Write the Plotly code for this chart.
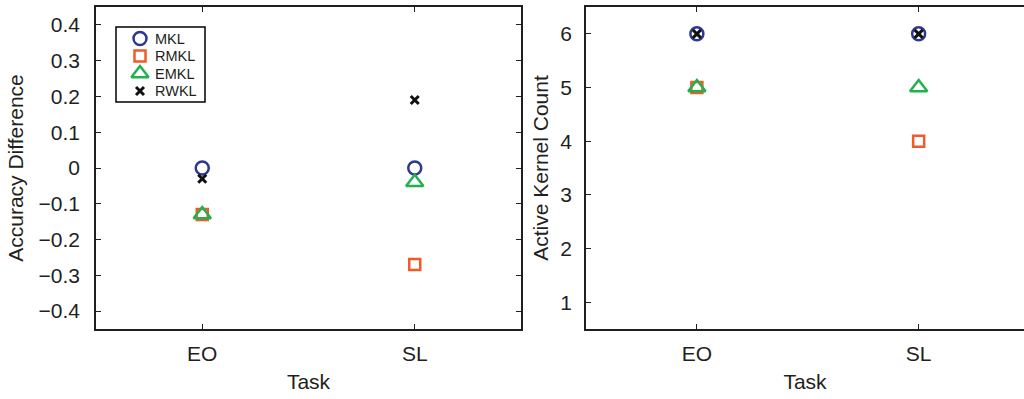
import plotly.graph_objects as go

# Task categories (x positions 1, 2)
tasks = ["EO", "SL"]
task_pos = [1, 2]

# Accuracy difference per method
acc_mkl = [0.0, 0.0]
acc_rmkl = [-0.13, -0.27]
acc_emkl = [-0.13, -0.04]
acc_rwkl = [-0.03, 0.19]

# Active kernel count per method
cnt_mkl = [6, 6]
cnt_rmkl = [5, 4]
cnt_emkl = [5, 5]
cnt_rwkl = [6, 6]

acc_ticks = [-0.4, -0.3, -0.2, -0.1, 0, 0.1, 0.2, 0.3, 0.4]
acc_ticktext = ["\u22120.4", "\u22120.3", "\u22120.2", "\u22120.1", "0", "0.1", "0.2", "0.3", "0.4"]
cnt_ticks = [1, 2, 3, 4, 5, 6]

method_names = ["MKL", "RMKL", "EMKL", "RWKL"]

FONT = "Liberation Sans, Arial, sans-serif"
INK = "#231f20"
FS = 21

styles = [
    dict(symbol="circle-open", size=13, color="#2b3990", line=dict(width=2.5, color="#2b3990")),
    dict(symbol="square-open", size=11, color="#f15a29", line=dict(width=2.5, color="#f15a29")),
    dict(symbol="triangle-up-open", size=15, color="#22b14c", line=dict(width=2.5, color="#22b14c")),
    dict(symbol="x-thin-open", size=8, color="#111111", line=dict(width=3, color="#111111")),
]
acc_series = [acc_mkl, acc_rmkl, acc_emkl, acc_rwkl]
cnt_series = [cnt_mkl, cnt_rmkl, cnt_emkl, cnt_rwkl]

fig = go.Figure()
for name, acc, cnt, mk in zip(method_names, acc_series, cnt_series, styles):
    fig.add_trace(go.Scatter(x=task_pos, y=acc, mode="markers", name=name,
                             marker=mk, xaxis="x", yaxis="y", showlegend=False))
    fig.add_trace(go.Scatter(x=task_pos, y=cnt, mode="markers", name=name,
                             marker=mk, xaxis="x2", yaxis="y2", showlegend=False))

# Boxed key inside the left panel, drawn on its own hidden axes
key_rows = [3, 2, 1, 0]
for name, row, mk in zip(method_names, key_rows, styles):
    fig.add_trace(go.Scatter(x=[24], y=[row], mode="markers", name=name, marker=mk,
                             xaxis="x3", yaxis="y3", showlegend=False, cliponaxis=False))
    fig.add_annotation(x=37, y=row, xref="x3", yref="y3", text=name, showarrow=False,
                       xanchor="left", yanchor="middle",
                       font=dict(family=FONT, size=14.5, color=INK))

key_x0, key_x1, key_y0, key_y1 = 116, 205, 27, 102
fig.add_shape(type="rect", xref="paper", yref="paper",
              x0=key_x0/1024, x1=key_x1/1024, y0=1 - key_y1/399, y1=1 - key_y0/399,
              line=dict(color="black", width=1.5), fillcolor="rgba(0,0,0,0)", layer="above")

axis_common = dict(showgrid=False, zeroline=False, showline=True, linecolor=INK,
                   linewidth=1.5, ticks="inside", ticklen=5, tickwidth=1.2, tickcolor=INK,
                   tickfont=dict(family=FONT, size=FS, color=INK))
title_font = dict(family=FONT, size=FS, color=INK)
ydom = [1 - 329/399, 1 - 7/399]

fig.update_layout(
    width=1024, height=399,
    margin=dict(l=0, r=0, t=0, b=0),
    paper_bgcolor="white", plot_bgcolor="white",
    font=dict(family=FONT, color=INK),
    showlegend=False,
    xaxis=dict(domain=[96/1024, 521/1024], range=[0.5, 2.5], tickvals=task_pos, ticktext=tasks,
               mirror="ticks", anchor="y", ticklabelstandoff=5,
               title=dict(text="Task", font=title_font, standoff=10),
               **axis_common),
    yaxis=dict(domain=ydom, range=[-0.45, 0.45], tickvals=acc_ticks,
               ticktext=acc_ticktext, mirror="ticks", anchor="x", ticklabelstandoff=10,
               title=dict(text="Accuracy Difference", font=title_font, standoff=9),
               **axis_common),
    xaxis2=dict(domain=[586/1024, 1.0], range=[0.5, 2.475], tickvals=task_pos, ticktext=tasks,
                mirror="ticks", anchor="y2", ticklabelstandoff=5,
                title=dict(text="Task", font=title_font, standoff=10),
                **axis_common),
    yaxis2=dict(domain=ydom, range=[0.5, 6.5], tickvals=cnt_ticks,
                mirror=False, anchor="x2", ticklabelstandoff=8,
                title=dict(text="Active Kernel Count", font=title_font, standoff=6),
                **axis_common),
    xaxis3=dict(domain=[key_x0/1024, key_x1/1024], range=[0, key_x1 - key_x0], visible=False,
                fixedrange=True),
    yaxis3=dict(domain=[1 - key_y1/399, 1 - key_y0/399], range=[-0.63, 3.66], visible=False,
                fixedrange=True),
)

fig.write_html("out.html")
